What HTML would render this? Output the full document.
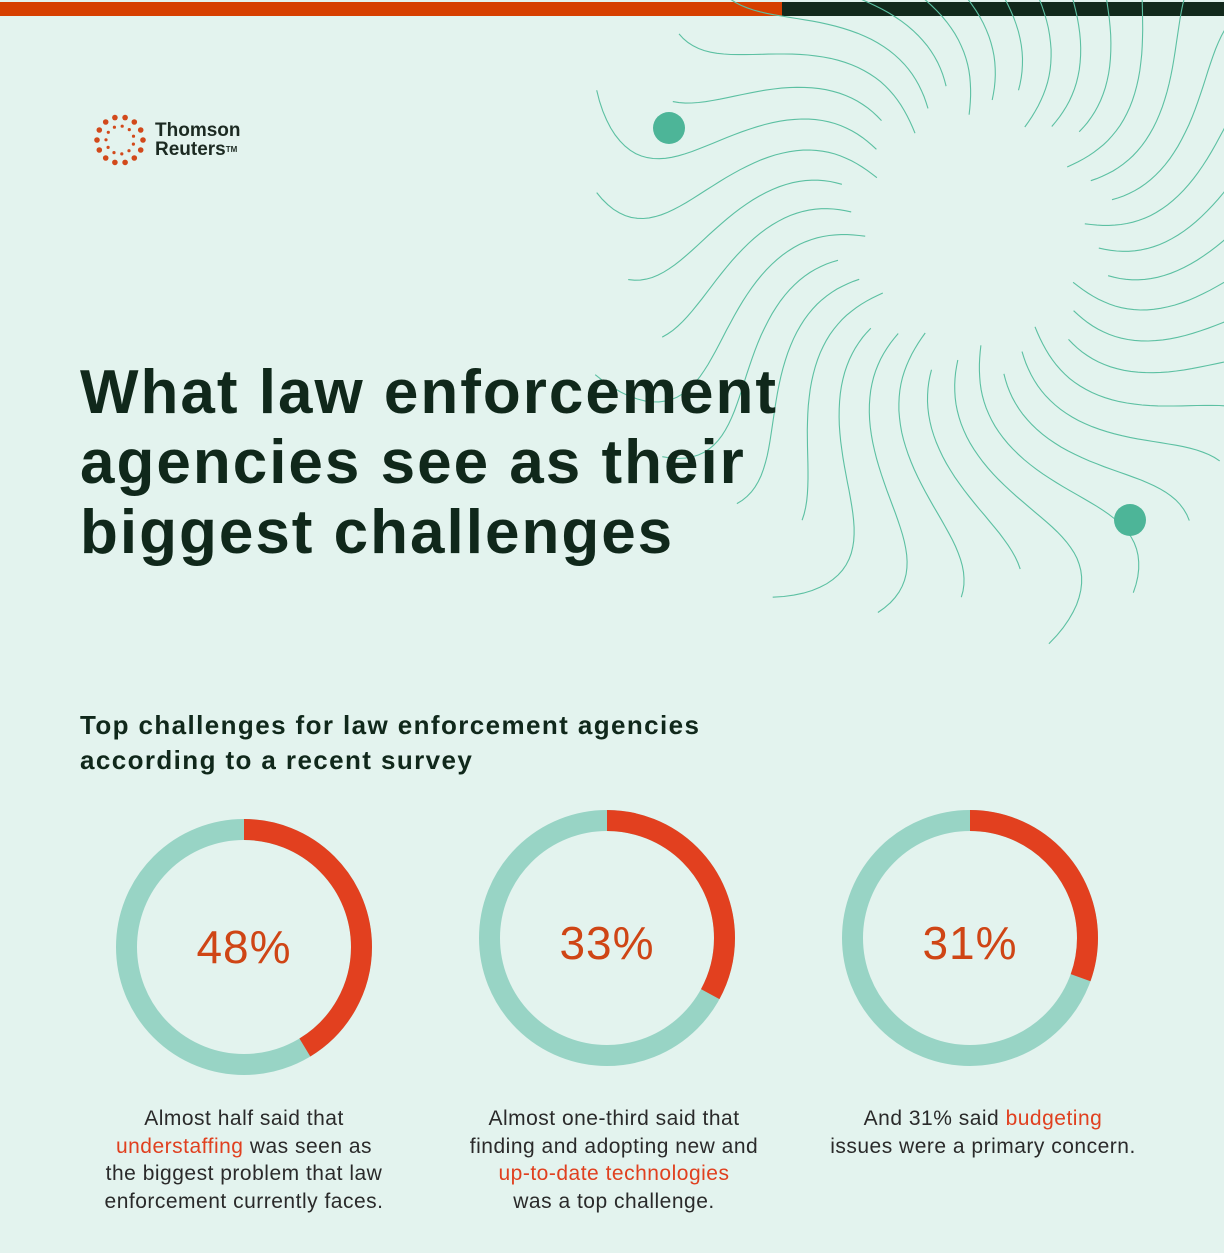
<!DOCTYPE html>
<html><head><meta charset="utf-8"><style>
body{margin:0;width:1224px;height:1253px;background:#e3f3ee;font-family:"Liberation Sans",sans-serif;position:relative;overflow:hidden}
.bar1{position:absolute;left:0;top:2px;width:782px;height:14px;background:#d64000}
.bar2{position:absolute;left:782px;top:2px;width:442px;height:14px;background:#12291c}
.t{position:absolute;left:80px;top:358px;font-size:62px;line-height:70px;color:#10281b;font-weight:bold;letter-spacing:2px}
.s{position:absolute;left:80px;top:708px;font-size:26px;line-height:35px;color:#10281b;font-weight:bold;letter-spacing:1.4px}
.c{position:absolute;width:360px;text-align:center;font-size:21px;line-height:27.5px;color:#2a2a2a;top:1105px;letter-spacing:0.5px}
.c b{color:#e0401f;font-weight:normal}
.p{position:absolute;font-size:46px;color:#cf4515;width:200px;text-align:center;top:920px;letter-spacing:1px}
.logo{position:absolute;left:155px;top:121px;font-size:19px;line-height:19px;font-weight:bold;color:#1c2a22}
</style></head><body>
<div class="bar1"></div><div class="bar2"></div>
<svg id="sw" width="1224" height="1253" style="position:absolute;left:0;top:0">
<g id="lines" fill="none" stroke="#5cc0a2" stroke-width="1.1"></g>
<circle cx="669" cy="128" r="16" fill="#4db598"/>
<circle cx="1130" cy="520" r="16" fill="#4db598"/>
<g fill="#d2491b" id="logo"></g>
<g fill="none" stroke-width="21">
<circle cx="244" cy="947" r="117.5" stroke="#98d4c5"/>
<circle cx="244" cy="947" r="117.5" stroke="#e2401f" stroke-dasharray="305 1000" transform="rotate(-90 244 947)"/>
<circle cx="607" cy="938" r="117.5" stroke="#98d4c5"/>
<circle cx="607" cy="938" r="117.5" stroke="#e2401f" stroke-dasharray="243 1000" transform="rotate(-90 607 938)"/>
<circle cx="970" cy="938" r="117.5" stroke="#98d4c5"/>
<circle cx="970" cy="938" r="117.5" stroke="#e2401f" stroke-dasharray="225 1000" transform="rotate(-90 970 938)"/>
</g>
</svg>
<script>
var g=document.getElementById('lines'),cx=975,cy=230,s='';
for(var i=0;i<36;i++){var a0=i/36*Math.PI*2,d='';
var rs=110+ (i%3)*15, re=330+(i%4)*25;
for(var r=rs;r<=re;r+=6){var a=a0+0.35*Math.sin(r/75)+r/900;
var x=cx+r*Math.cos(a),y=cy+r*Math.sin(a)*1.05;d+=(r==rs?'M':'L')+x.toFixed(1)+' '+y.toFixed(1);}
s+='<path d="'+d+'"/>';}
g.innerHTML=s;
var l='',lx=120,ly=140;
for(var j=0;j<14;j++){var a=j/14*Math.PI*2;l+='<circle cx="'+(lx+23*Math.cos(a)).toFixed(1)+'" cy="'+(ly+23*Math.sin(a)).toFixed(1)+'" r="2.8"/>';}
for(var j=0;j<11;j++){var a=j/11*Math.PI*2+0.3;l+='<circle cx="'+(lx+14*Math.cos(a)).toFixed(1)+'" cy="'+(ly+14*Math.sin(a)).toFixed(1)+'" r="1.6"/>';}
document.getElementById('logo').innerHTML=l;
</script>
<div class="logo">Thomson<br>Reuters<span style="font-size:8px;vertical-align:top">TM</span></div>
<div class="t">What law enforcement<br>agencies see as their<br>biggest challenges</div>
<div class="s">Top challenges for law enforcement agencies<br>according to a recent survey</div>
<div class="p" style="left:144px;top:920px">48%</div>
<div class="p" style="left:507px;top:916px">33%</div>
<div class="p" style="left:870px;top:916px">31%</div>
<div class="c" style="left:64px">Almost half said that<br><b>understaffing</b> was seen as<br>the biggest problem that law<br>enforcement currently faces.</div>
<div class="c" style="left:434px">Almost one-third said that<br>finding and adopting new and<br><b>up-to-date technologies</b><br>was a top challenge.</div>
<div class="c" style="left:803px">And 31% said <b>budgeting</b><br>issues were a primary concern.</div>
</body></html>
